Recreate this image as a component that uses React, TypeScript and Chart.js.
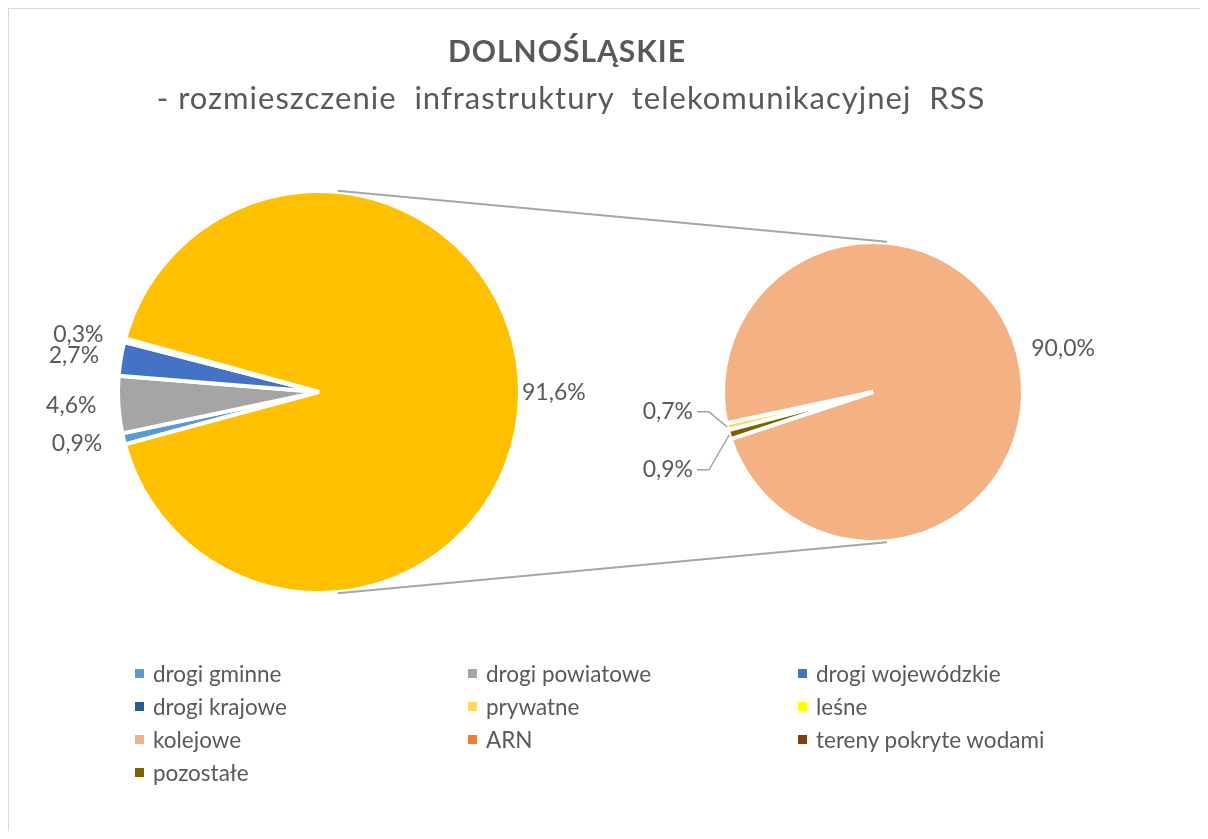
import React, { useEffect, useRef } from "react";
import { Chart, registerables } from "chart.js";

Chart.register(...registerables);

// ---------- data ----------
const titleText = "DOLNOŚLĄSKIE";
const subtitleText = "- rozmieszczenie  infrastruktury  telekomunikacyjnej  RSS";

const categories = [
  "drogi gminne",
  "drogi powiatowe",
  "drogi wojewódzkie",
  "drogi krajowe",
  "prywatne",
  "leśne",
  "kolejowe",
  "ARN",
  "tereny pokryte wodami",
  "pozostałe",
];
const shares = [0.9, 4.6, 2.7, 0.3, 0.7, 0, 90.0, 0, 0, 0.9];
const colors = [
  "#5B9BD5",
  "#A5A5A5",
  "#4472C4",
  "#255E91",
  "#FFD966",
  "#FFFF00",
  "#F4B183",
  "#ED7D31",
  "#843C0C",
  "#7F6000",
];
const firstPieCount = 4; // categories shown in the first pie
const otherName = "pozostałe kategorie";
const otherColor = "#FFC000";

// ---------- derived ----------
const firstLabels = [...categories.slice(0, firstPieCount), otherName];
const secondLabels = categories.slice(firstPieCount);
const secondValues = shares.slice(firstPieCount);
const otherShare = secondValues.reduce((a, b) => a + b, 0);
const firstValues = [...shares.slice(0, firstPieCount), otherShare];
const firstColors = [...colors.slice(0, firstPieCount), otherColor];
const secondColors = colors.slice(firstPieCount);

const TEXT = "#595959";
const FONT = "Lato, 'Open Sans', sans-serif";
const W = 1208;
const H = 839;

const fmt = (v: number) => v.toFixed(1).replace(".", ",") + "%";

const sliceLabels = {
  id: "sliceLabels",
  afterDatasetsDraw(chart: any, _args: any, opts: any) {
    const ctx = chart.ctx;
    const meta = chart.getDatasetMeta(0);
    const data = chart.data.datasets[0].data as number[];
    ctx.save();
    ctx.font = opts.font;
    ctx.fillStyle = opts.color;
    ctx.textBaseline = "middle";
    const leaders: any[] = [];
    meta.data.forEach((arc: any, i: number) => {
      const v = data[i];
      if (!v) return;
      const p = arc.getProps(["x", "y", "startAngle", "endAngle", "outerRadius"], true);
      const mid = (p.startAngle + p.endAngle) / 2;
      const c = Math.cos(mid);
      const s = Math.sin(mid);
      if (opts.leaderBelow && v < opts.leaderBelow) {
        leaders.push({ v, ex: p.x + c * p.outerRadius, ey: p.y + s * p.outerRadius, cx: p.x, r: p.outerRadius });
        return;
      }
      const gap = v > 50 ? opts.bigGap : opts.gap;
      ctx.textAlign = c >= 0 ? "left" : "right";
      ctx.fillText(fmt(v), p.x + c * (p.outerRadius + gap), p.y + s * (p.outerRadius + gap));
    });
    if (leaders.length) {
      leaders.sort((a, b) => a.ey - b.ey);
      const n = leaders.length;
      const mean = leaders.reduce((t, l) => t + l.ey, 0) / n + opts.leaderShift;
      ctx.strokeStyle = opts.leaderColor;
      ctx.lineWidth = opts.leaderWidth;
      leaders.forEach((l, k) => {
        const ly = mean + (k - (n - 1) / 2) * opts.leaderSpacing;
        const tx = l.cx - l.r - opts.leaderDx;
        ctx.textAlign = "right";
        ctx.fillText(fmt(l.v), tx, ly);
        ctx.beginPath();
        ctx.moveTo(tx + 4, ly);
        ctx.lineTo(tx + 4 + opts.leaderRun, ly);
        ctx.lineTo(l.ex, l.ey);
        ctx.stroke();
      });
    }
    ctx.restore();
  },
};

const pieConnector = {
  id: "pieConnector",
  afterDatasetsDraw(chart: any, _args: any, opts: any) {
    const src = opts.getSource && opts.getSource();
    if (!src) return;
    const a = src.getDatasetMeta(0).data[0];
    const b = chart.getDatasetMeta(0).data[0];
    if (!a || !b) return;
    const x1 = a.x, y1 = a.y, r1 = a.outerRadius;
    const x2 = b.x, y2 = b.y, r2 = b.outerRadius;
    const d = Math.hypot(x2 - x1, y2 - y1);
    const base = Math.atan2(y2 - y1, x2 - x1);
    const phi = Math.acos((r1 - r2) / d);
    const ctx = chart.ctx;
    ctx.save();
    ctx.strokeStyle = opts.color;
    ctx.lineWidth = opts.width;
    [-1, 1].forEach((sg) => {
      const ang = base + sg * phi;
      ctx.beginPath();
      ctx.moveTo(x1 + (r1 + 1) * Math.cos(ang), y1 + (r1 + 1) * Math.sin(ang));
      ctx.lineTo(x2 + (r2 + 1) * Math.cos(ang), y2 + (r2 + 1) * Math.sin(ang));
      ctx.stroke();
    });
    ctx.restore();
  },
};

export default function App() {
  const refA = useRef<HTMLCanvasElement>(null);
  const refB = useRef<HTMLCanvasElement>(null);

  useEffect(() => {
    document.documentElement.style.overflow = "hidden";
    document.body.style.overflow = "hidden";
    if (!refA.current || !refB.current) return;
    const labelFont = `23px ${FONT}`;

    // first pie: small slices centred on the left, "other" slice to the right
    const smallDeg = ((100 - otherShare) / 100) * 360;
    const rotA = 180 - smallDeg / 2 + 90;

    const cxA = 319, cyA = 392, rA = 201, boxA = 210;
    const chartA = new Chart(refA.current, {
      type: "pie",
      data: {
        labels: firstLabels,
        datasets: [
          {
            data: firstValues,
            backgroundColor: firstColors,
            borderColor: "#FFFFFF",
            borderWidth: 4,
          },
        ],
      },
      options: {
        responsive: false,
        animation: false,
        rotation: rotA,
        radius: rA,
        layout: {
          padding: { left: cxA - boxA, right: W - cxA - boxA, top: cyA - boxA, bottom: H - cyA - boxA },
        },
        plugins: {
          legend: { display: false },
          tooltip: { enabled: false },
          title: { display: false },
          sliceLabels: { font: labelFont, color: TEXT, gap: 22, bigGap: 2 },
        } as any,
      },
      plugins: [sliceLabels],
    });

    const cxB = 873, cyB = 392, rB = 150, boxB = 160;
    const chartB = new Chart(refB.current, {
      type: "pie",
      data: {
        labels: secondLabels,
        datasets: [
          {
            data: secondValues,
            backgroundColor: secondColors,
            borderColor: "#FFFFFF",
            borderWidth: 4,
          },
        ],
      },
      options: {
        responsive: false,
        animation: false,
        rotation: 255.2,
        radius: rB,
        layout: {
          padding: { left: cxB - boxB, right: W - cxB - boxB, top: cyB - boxB, bottom: H - cyB - boxB },
        },
        plugins: {
          legend: { display: false },
          tooltip: { enabled: false },
          title: { display: false },
          sliceLabels: {
            font: labelFont,
            color: TEXT,
            gap: 14,
            bigGap: 14,
            leaderBelow: 2,
            leaderShift: 10,
            leaderSpacing: 58,
            leaderDx: 30,
            leaderRun: 12,
            leaderColor: "#A6A6A6",
            leaderWidth: 1.5,
          },
          pieConnector: { getSource: () => chartA, color: "#A6A6A6", width: 2 },
        } as any,
      },
      plugins: [sliceLabels, pieConnector],
    });

    return () => {
      chartB.destroy();
      chartA.destroy();
    };
  }, []);

  return (
    <div
      style={{
        position: "relative",
        width: 1201,
        height: 824,
        marginLeft: -1,
        marginTop: -1,
        boxSizing: "border-box",
        borderTop: "2px solid #D9D9D9",
        borderLeft: "2px solid #D9D9D9",
        fontFamily: FONT,
        color: TEXT,
      }}
    >
      <div style={{ position: "absolute", left: -9, top: -9, width: W, height: H }}>
        <canvas ref={refA} width={W} height={H} style={{ position: "absolute", left: 0, top: 0, width: W, height: H }} />
        <canvas ref={refB} width={W} height={H} style={{ position: "absolute", left: 0, top: 0, width: W, height: H }} />
        <div
          style={{
            position: "absolute",
            left: 0,
            width: 1134,
            top: 35,
            textAlign: "center",
            fontSize: 30,
            lineHeight: "30px",
            fontWeight: 700,
            letterSpacing: 1,
            whiteSpace: "pre",
          }}
        >
          {titleText}
        </div>
        <div
          style={{
            position: "absolute",
            left: 0,
            width: 1142,
            top: 82,
            textAlign: "center",
            fontSize: 31,
            lineHeight: "31px",
            letterSpacing: 1,
            whiteSpace: "pre",
          }}
        >
          {subtitleText}
        </div>
        <div
          style={{
            position: "absolute",
            left: 135,
            top: 657,
            display: "grid",
            gridTemplateColumns: "333px 330px 330px",
            gridAutoRows: "33px",
            fontSize: 22.5,
          }}
        >
          {categories.map((c, i) => (
            <div key={c} style={{ display: "flex", alignItems: "center", whiteSpace: "nowrap" }}>
              <span style={{ display: "inline-block", width: 9, height: 9, background: colors[i], marginRight: 9 }} />
              <span>{c}</span>
            </div>
          ))}
        </div>
      </div>
    </div>
  );
}
